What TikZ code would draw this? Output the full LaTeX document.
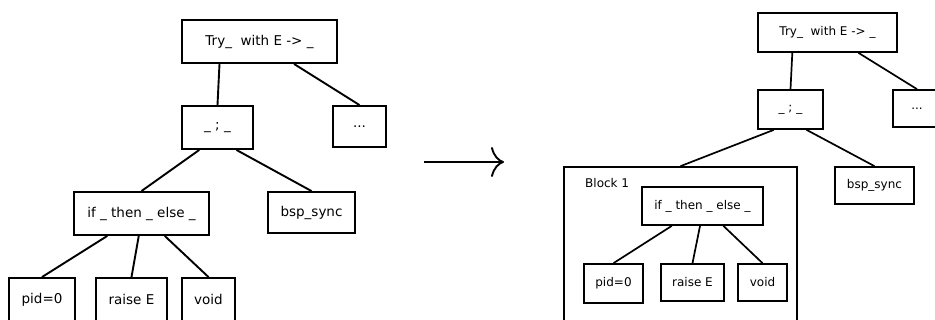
\documentclass[tikz,border=0pt]{standalone}
\usepackage{fontspec}
\setmainfont{DejaVu Sans}
\usetikzlibrary{calc,arrows.meta}

\begin{document}
\begin{tikzpicture}[x=1pt,y=-1pt,
  box/.style={draw, line width=1.9pt, inner sep=0pt, font=\fontsize{13.5}{16}\selectfont},
  sbox/.style={draw, line width=1.7pt, inner sep=0pt, font=\fontsize{12}{14}\selectfont},
  edge/.style={line width=1.9pt},
  sedge/.style={line width=1.7pt}]
\useasboundingbox (0,0) rectangle (935,320);
\clip (0,0) rectangle (935,320);

% ---------- original tree ----------
\node[box, minimum width=155, minimum height=43] (ta) at (259.5,41.5) {Try\_\ \ with E -> \_};
\node[box, minimum width=71, minimum height=43]  (sa) at (217.5,127.5) {\_ ; \_};
\node[box, minimum width=53, minimum height=41]  (da) at (359.5,126.5) {...};
\node[box, minimum width=135, minimum height=43] (ia) at (141.5,213.5) {if \_ then \_ else \_};
\node[box, minimum width=87, minimum height=41]  (ba) at (311.5,212.5) {bsp\_sync};
\node[box, minimum width=66, minimum height=43]  (pa) at (42,299.5) {pid=0};
\node[box, minimum width=71, minimum height=43]  (ra) at (131.5,299.5) {raise E};
\node[box, minimum width=53, minimum height=43]  (va) at (208.5,299.5) {void};

\draw[edge] ($(ta.south west)!0.245!(ta.south east)$) -- (sa.north);
\draw[edge] ($(ta.south west)!0.72!(ta.south east)$) -- (da.north);
\draw[edge] ($(sa.south west)!0.25!(sa.south east)$) -- (ia.north);
\draw[edge] ($(sa.south west)!0.76!(sa.south east)$) -- (ba.north);
\draw[edge] ($(ia.south west)!0.25!(ia.south east)$) -- (pa.north);
\draw[edge] ($(ia.south west)!0.48!(ia.south east)$) -- (ra.north);
\draw[edge] ($(ia.south west)!0.67!(ia.south east)$) -- (va.north);

% ---------- transformation arrow ----------
\coordinate (arrfrom) at (424,162);
\coordinate (arrto) at (504,162);
\draw[line width=1.9pt, -{Computer Modern Rightarrow[length=13pt,width=30pt,line width=1.9pt]}] (arrfrom) -- (arrto);

% ---------- transformed tree ----------
\node[sbox, minimum width=139, minimum height=39] (tb) at (827.5,32.5) {Try\_\ \ with E -> \_};
\node[sbox, minimum width=65, minimum height=39]  (sb) at (790.5,109.5) {\_ ; \_};
\node[sbox, minimum width=48, minimum height=37]  (db) at (917,108.5) {...};
\node[sbox, minimum width=233, minimum height=170] (blk) at (680.5,252) {};
\node[font=\fontsize{12}{14}\selectfont, anchor=west, inner sep=0pt] (blkname) at (585,183) {Block 1};
\node[sbox, minimum width=79, minimum height=37]  (bb) at (874.5,185.5) {bsp\_sync};
\node[sbox, minimum width=121, minimum height=38] (ib) at (702.5,206) {if \_ then \_ else \_};
\node[sbox, minimum width=59, minimum height=39]  (pb) at (613.5,283.5) {pid=0};
\node[sbox, minimum width=63, minimum height=37]  (rb) at (692.5,282.5) {raise E};
\node[sbox, minimum width=49, minimum height=37]  (vb) at (762.5,282.5) {void};

\draw[sedge] ($(tb.south west)!0.25!(tb.south east)$) -- (sb.north);
\draw[sedge] ($(tb.south west)!0.72!(tb.south east)$) -- (db.north);
\draw[sedge] ($(sb.south west)!0.25!(sb.south east)$) -- (blk.north);
\draw[sedge] ($(sb.south west)!0.74!(sb.south east)$) -- (bb.north);
\draw[sedge] ($(ib.south west)!0.25!(ib.south east)$) -- (pb.north);
\draw[sedge] ($(ib.south west)!0.48!(ib.south east)$) -- (rb.north);
\draw[sedge] ($(ib.south west)!0.67!(ib.south east)$) -- (vb.north);
\end{tikzpicture}
\end{document}
